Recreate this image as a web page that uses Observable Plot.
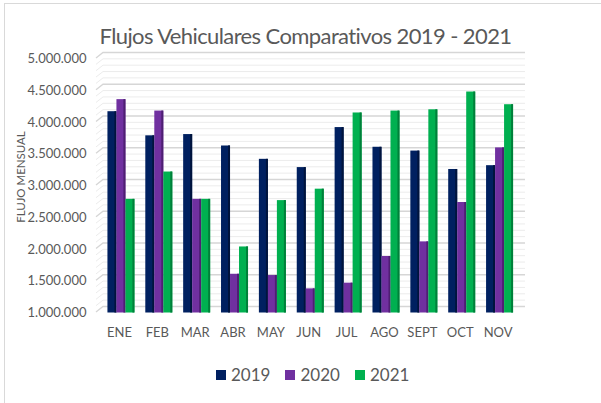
<!DOCTYPE html>
<html>
<head>
<meta charset="utf-8">
<script src="https://cdn.jsdelivr.net/npm/d3@7"></script>
<script src="https://cdn.jsdelivr.net/npm/@observablehq/plot@0.6"></script>
<style>
  html, body { margin: 0; padding: 0; background: #fff; overflow: hidden; }
  #wrap { position: relative; width: 601px; height: 403px; overflow: hidden; font-family: Lato, sans-serif; color: #595959; }
  #border { position: absolute; left: 4px; top: 3px; width: 800px; height: 600px; border: 1.5px solid #d9d9d9; box-sizing: border-box; }
  #title { position: absolute; left: 5px; width: 601px; top: 22px; text-align: center; font-size: 22px; letter-spacing: -0.6px; color: #595959; white-space: nowrap; }
  #chart { position: absolute; left: 0; top: 48px; }
  #ylabel { position: absolute; left: 20px; top: 177px; transform: translate(-50%, -50%) rotate(-90deg); font-size: 11.5px; white-space: nowrap; color: #595959; }
  #legend { position: absolute; left: 216px; top: 364px; display: flex; align-items: center; font-size: 17px; color: #595959; }
  #legend .sw { width: 10px; height: 10px; margin-right: 5px; }
  #legend .it { display: flex; align-items: center; margin-right: 15px; }
</style>
</head>
<body>
<div id="wrap">
  <div id="border"></div>
  <div id="title">Flujos Vehiculares Comparativos 2019 - 2021</div>
  <div id="chart"></div>
  <div id="ylabel">FLUJO MENSUAL</div>
  <div id="legend"></div>
</div>
<script>
const months = ["ENE","FEB","MAR","ABR","MAY","JUN","JUL","AGO","SEPT","OCT","NOV"];
const years = ["2019","2020","2021"];
const v2019 = [4170000, 3790000, 3810000, 3630000, 3420000, 3290000, 3920000, 3610000, 3550000, 3260000, 3320000];
const v2020 = [4360000, 4180000, 2790000, 1610000, 1590000, 1380000, 1470000, 1890000, 2120000, 2740000, 3600000];
const v2021 = [2790000, 3220000, 2790000, 2040000, 2770000, 2950000, 4150000, 4180000, 4200000, 4480000, 4280000];
const yTicks = [1000000, 1500000, 2000000, 2500000, 3000000, 3500000, 4000000, 4500000, 5000000];
const colors = ["#002060", "#7030A0", "#00B050"];
const sideColors = ["#00143d", "#4e1f72", "#00803a"];

const series = [v2019, v2020, v2021];
const data = [];
series.forEach((vals, si) => vals.forEach((v, i) => data.push({month: months[i], year: years[si], value: v})));

const fmt = d3.formatLocale({decimal: ",", thousands: ".", grouping: [3], currency: ["", ""]}).format(",");
const BASE = 1000000;
const gridVals = d3.range(1000000, 5000001, 100000);

const W = 601, ML = 100, MR = 84.5;
const barW = 9;
const bandW = (W - ML - MR) / months.length;
const inset = (bandW - barW) / 2;
const offsets = [-7, 2, 11];

const marks = [
  // back wall grid (3D style): slanted stub + horizontal line raised by perspective
  (index, scales, values, dimensions) => {
    const ns = "http://www.w3.org/2000/svg";
    const g = document.createElementNS(ns, "g");
    if (!scales || !scales.y) return g;
    const x0 = dimensions.marginLeft + 3;
    const x1 = dimensions.width - 76;
    gridVals.forEach(v => {
      const y = scales.y(v);
      const major = Math.round(v) % 500000 === 0;
      const p = document.createElementNS(ns, "path");
      p.setAttribute("d", `M${x0 - 7},${y - 0.5}L${x0},${y - 6}H${x1}`);
      p.setAttribute("stroke", major ? "#d6d6d6" : "#ececec");
      p.setAttribute("stroke-width", major ? 1.3 : 1);
      p.setAttribute("fill", "none");
      g.appendChild(p);
    });
    return g;
  }
];
years.forEach((yr, si) => {
  const sub = data.filter(d => d.year === yr);
  marks.push(Plot.barY(sub, {x: "month", y1: () => BASE, y2: "value", fill: colors[si], insetLeft: inset, insetRight: inset, dx: offsets[si]}));
  marks.push(Plot.barY(sub, {x: "month", y1: () => BASE, y2: "value", fill: sideColors[si], insetLeft: inset + barW - 2, insetRight: inset, dx: offsets[si]}));
});

const chart = Plot.plot({
  width: W,
  height: 300,
  marginTop: 10.5,
  marginBottom: 35.5,
  marginLeft: ML,
  marginRight: MR,
  style: {fontFamily: "Lato, sans-serif", fontSize: "13px", color: "#595959", background: "transparent"},
  x: {domain: months, padding: 0, round: false, tickSize: 0, tickPadding: 15, label: null},
  y: {domain: [1000000, 5000000], ticks: yTicks, tickFormat: fmt, tickSize: 0, tickPadding: 14, label: null},
  marks
});
document.getElementById("chart").appendChild(chart);

const legend = document.getElementById("legend");
years.forEach((yr, si) => {
  const it = document.createElement("div");
  it.className = "it";
  const sw = document.createElement("div");
  sw.className = "sw";
  sw.style.background = colors[si];
  const t = document.createElement("span");
  t.textContent = yr;
  it.appendChild(sw); it.appendChild(t);
  legend.appendChild(it);
});
</script>
</body>
</html>
